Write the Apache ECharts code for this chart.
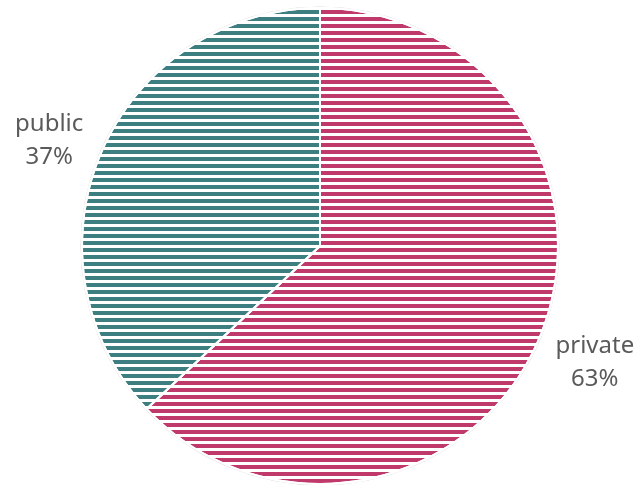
<!DOCTYPE html>
<html>
<head>
<meta charset="utf-8">
<script src="https://cdn.jsdelivr.net/npm/echarts@6/dist/echarts.min.js"></script>
<style>html,body{margin:0;padding:0;background:#fff;}#chart{width:641px;height:485px;}</style>
</head>
<body>
<div id="chart"></div>
<script>
const categories = ['private', 'public'];
const values = [63, 37];
const colors = ['#c0396b', '#3d7f81'];

const chart = echarts.init(document.getElementById('chart'), null, {renderer: 'canvas'});
const stripe = {symbol: 'rect', symbolSize: 1, dashArrayX: [1, 0], dashArrayY: [3, 4], rotation: 0, color: '#ffffff'};
const LINE = 33;
chart.setOption({
  animation: false,
  series: [
    {
      type: 'pie', silent: true, center: [320, 246], radius: [0, 239], startAngle: 90,
      label: {show: false}, labelLine: {show: false},
      itemStyle: {color: 'rgba(0,0,0,0)', borderColor: '#d6d6d6', borderWidth: 1},
      data: [{value: 1, name: 'outline'}]
    },
    {
      type: 'pie', center: [320, 246], radius: [0, 238], startAngle: 90, clockwise: true,
      itemStyle: {borderColor: '#ffffff', borderWidth: 2},
      label: {
        show: true, position: 'outside', color: '#5a5a5a', fontSize: 24,
        fontFamily: 'Noto Sans', lineHeight: LINE, overflow: 'none', edgeDistance: 0,
        formatter: p => p.name + '\n' + Math.round(p.percent) + '%'
      },
      labelLine: {show: false, length: 56, length2: 0},
      labelLayout: function (p) {
        const r = p.labelRect;
        const right = r.x + r.width / 2 > 320;
        const ax = right ? r.x : r.x + r.width + 4;
        const ay = r.y + r.height / 2 + (right ? 0 : 11);
        return {x: ax, y: ay, align: 'center', verticalAlign: 'middle'};
      },
      data: categories.map((c, i) => ({
        name: c, value: values[i],
        itemStyle: {color: colors[i], decal: stripe}
      }))
    }
  ]
});
</script>
</body>
</html>
